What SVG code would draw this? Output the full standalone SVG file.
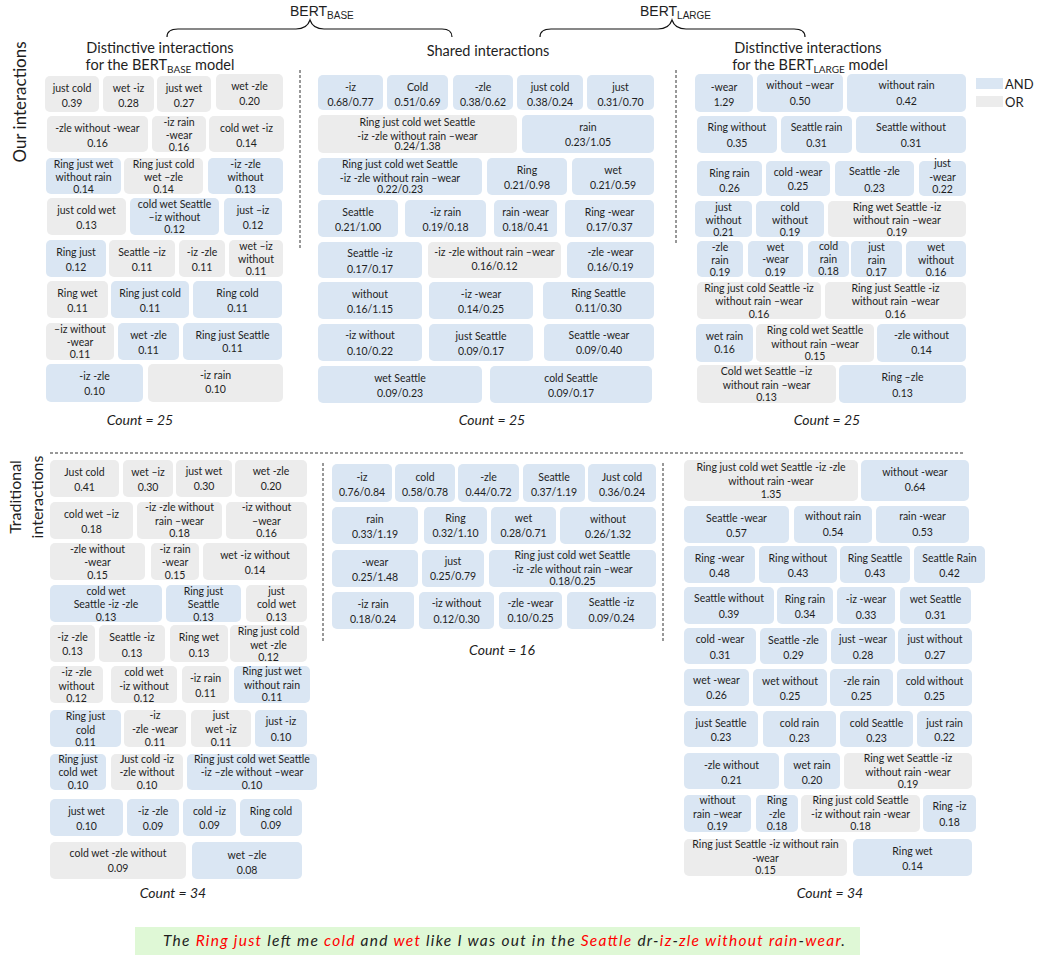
<svg xmlns="http://www.w3.org/2000/svg" width="1038" height="955" viewBox="0 0 1038 955">
<style>
text{font-family:Lato,"Liberation Sans",sans-serif;fill:#1e1e1e}
.a{fill:#dae6f3}
.o{fill:#ececec}
.t{font-size:10.5px;text-anchor:middle}
.h{font-size:14.5px;text-anchor:middle}
.c{font-size:14px;font-style:italic;text-anchor:middle}
.b{font-family:"Liberation Sans",Arial,sans-serif;font-size:14px}
.d{fill:none;stroke:#333;stroke-width:1;stroke-dasharray:3,2}
.br{fill:none;stroke:#111;stroke-width:1.2}
.r{fill:#ff0000}
</style>
<rect width="1038" height="955" fill="#ffffff"/>
<g id="headers">
<text class="b" x="290" y="16">BERT<tspan font-size="10" dy="3">BASE</tspan></text>
<text class="b" x="640" y="16">BERT<tspan font-size="10" dy="3">LARGE</tspan></text>
<text class="h" x="160" y="53">Distinctive interactions</text>
<text class="h" x="160" y="70">for the BERT<tspan font-size="10" dy="3">BASE</tspan><tspan dy="-3"> model</tspan></text>
<text class="h" x="488" y="56">Shared interactions</text>
<text class="h" x="808" y="53">Distinctive interactions</text>
<text class="h" x="810" y="70">for the BERT<tspan font-size="10" dy="3">LARGE</tspan><tspan dy="-3"> model</tspan></text>
<text font-size="17" text-anchor="middle" transform="translate(26,102) rotate(-90)">Our interactions</text>
<text font-size="16" text-anchor="middle" transform="translate(21,497) rotate(-90)">Traditional</text>
<text font-size="16" text-anchor="middle" transform="translate(43,497) rotate(-90)">interactions</text>
<text class="c" x="140" y="425">Count = 25</text>
<text class="c" x="492" y="425">Count = 25</text>
<text class="c" x="827" y="425">Count = 25</text>
<text class="c" x="173" y="898">Count = 34</text>
<text class="c" x="502" y="655">Count = 16</text>
<text class="c" x="830" y="898">Count = 34</text>
</g>
<g id="legend">
<rect class="a" x="976" y="78" width="27" height="11"/>
<text x="1005" y="89" font-size="13">AND</text>
<rect class="o" x="976" y="96" width="27" height="11"/>
<text x="1005" y="107" font-size="13">OR</text>
</g>
<g id="connectors">
<path class="br" d="M167,37 C167,32 170,29 178,29 L296,29 C304,29 308,26 310,20 C312,26 316,29 324,29 L442,29 C449,29 452,32 452,37"/>
<path class="br" d="M540,37 C540,32 543,29 551,29 L658,29 C666,29 670,26 672,20 C674,26 678,29 686,29 L794,29 C801,29 805,32 805,37"/>
<line class="d" x1="300" y1="70" x2="300" y2="250"/>
<line class="d" x1="676" y1="70" x2="676" y2="245"/>
<line class="d" x1="50" y1="453" x2="965" y2="453"/>
<line class="d" x1="323" y1="463" x2="323" y2="643"/>
<line class="d" x1="663" y1="463" x2="663" y2="643"/>
</g>
<g id="tl1"><rect class="o" x="45" y="76" width="54" height="36" rx="5"/><text class="t"><tspan x="72" y="91.5">just cold</tspan><tspan x="72" y="106.5">0.39</tspan></text></g>
<g id="tl2"><rect class="o" x="103" y="76" width="51" height="36" rx="5"/><text class="t"><tspan x="128.5" y="91.5">wet -iz</tspan><tspan x="128.5" y="106.5">0.28</tspan></text></g>
<g id="tl3"><rect class="o" x="157" y="76" width="54" height="36" rx="5"/><text class="t"><tspan x="184" y="91.5">just wet</tspan><tspan x="184" y="106.5">0.27</tspan></text></g>
<g id="tl4"><rect class="o" x="216" y="74" width="67" height="36" rx="5"/><text class="t"><tspan x="249.5" y="89.5">wet -zle</tspan><tspan x="249.5" y="104.5">0.20</tspan></text></g>
<g id="tl5"><rect class="o" x="47" y="116" width="101" height="36" rx="5"/><text class="t"><tspan x="97.5" y="131.5">-zle without -wear</tspan><tspan x="97.5" y="146.5">0.16</tspan></text></g>
<g id="tl6"><rect class="o" x="152" y="116" width="54" height="36" rx="5"/><text class="t"><tspan x="179" y="126">-iz rain</tspan><tspan x="179" y="139">-wear</tspan><tspan x="179" y="150.5">0.16</tspan></text></g>
<g id="tl7"><rect class="o" x="209" y="116" width="75" height="36" rx="5"/><text class="t"><tspan x="246.5" y="131.5">cold wet -iz</tspan><tspan x="246.5" y="146.5">0.14</tspan></text></g>
<g id="tl8"><rect class="a" x="46" y="158" width="75" height="36" rx="5"/><text class="t"><tspan x="83.5" y="168">Ring just wet</tspan><tspan x="83.5" y="181">without rain</tspan><tspan x="83.5" y="192.5">0.14</tspan></text></g>
<g id="tl9"><rect class="o" x="124" y="158" width="79" height="36" rx="5"/><text class="t"><tspan x="163.5" y="168">Ring just cold</tspan><tspan x="163.5" y="181">wet –zle</tspan><tspan x="163.5" y="192.5">0.14</tspan></text></g>
<g id="tl10"><rect class="a" x="208" y="158" width="75" height="36" rx="5"/><text class="t"><tspan x="245.5" y="168">-iz -zle</tspan><tspan x="245.5" y="181">without</tspan><tspan x="245.5" y="192.5">0.13</tspan></text></g>
<g id="tl11"><rect class="o" x="47" y="198" width="79" height="37" rx="5"/><text class="t"><tspan x="86.5" y="213.5">just cold wet</tspan><tspan x="86.5" y="228.5">0.13</tspan></text></g>
<g id="tl12"><rect class="a" x="130" y="198" width="89" height="37" rx="5"/><text class="t"><tspan x="174.5" y="208">cold wet Seattle</tspan><tspan x="174.5" y="221">–iz without</tspan><tspan x="174.5" y="232.5">0.12</tspan></text></g>
<g id="tl13"><rect class="a" x="224" y="198" width="58" height="37" rx="5"/><text class="t"><tspan x="253" y="213.5">just –iz</tspan><tspan x="253" y="228.5">0.12</tspan></text></g>
<g id="tl14"><rect class="a" x="46" y="240" width="60" height="37" rx="5"/><text class="t"><tspan x="76" y="255.5">Ring just</tspan><tspan x="76" y="270.5">0.12</tspan></text></g>
<g id="tl15"><rect class="o" x="109" y="240" width="66" height="37" rx="5"/><text class="t"><tspan x="142" y="255.5">Seattle –iz</tspan><tspan x="142" y="270.5">0.11</tspan></text></g>
<g id="tl16"><rect class="o" x="179" y="240" width="46" height="37" rx="5"/><text class="t"><tspan x="202" y="255.5">-iz -zle</tspan><tspan x="202" y="270.5">0.11</tspan></text></g>
<g id="tl17"><rect class="o" x="229" y="240" width="54" height="37" rx="5"/><text class="t"><tspan x="256" y="250">wet –iz</tspan><tspan x="256" y="263">without</tspan><tspan x="256" y="274.5">0.11</tspan></text></g>
<g id="tl18"><rect class="o" x="47" y="281" width="61" height="37" rx="5"/><text class="t"><tspan x="77.5" y="296.5">Ring wet</tspan><tspan x="77.5" y="311.5">0.11</tspan></text></g>
<g id="tl19"><rect class="a" x="111" y="281" width="78" height="37" rx="5"/><text class="t"><tspan x="150" y="296.5">Ring just cold</tspan><tspan x="150" y="311.5">0.11</tspan></text></g>
<g id="tl20"><rect class="a" x="193" y="281" width="89" height="37" rx="5"/><text class="t"><tspan x="237.5" y="296.5">Ring cold</tspan><tspan x="237.5" y="311.5">0.11</tspan></text></g>
<g id="tl21"><rect class="o" x="46" y="323" width="68" height="37" rx="5"/><text class="t"><tspan x="80" y="333">–iz without</tspan><tspan x="80" y="346">-wear</tspan><tspan x="80" y="357.5">0.11</tspan></text></g>
<g id="tl22"><rect class="a" x="118" y="323" width="61" height="37" rx="5"/><text class="t"><tspan x="148.5" y="338.5">wet -zle</tspan><tspan x="148.5" y="353.5">0.11</tspan></text></g>
<g id="tl23"><rect class="a" x="183" y="323" width="99" height="37" rx="5"/><text class="t"><tspan x="232.5" y="338.5">Ring just Seattle</tspan><tspan x="232.5" y="352">0.11</tspan></text></g>
<g id="tl24"><rect class="a" x="46" y="364" width="97" height="38" rx="5"/><text class="t"><tspan x="94.5" y="379.5">-iz -zle</tspan><tspan x="94.5" y="394.5">0.10</tspan></text></g>
<g id="tl25"><rect class="o" x="148" y="364" width="135" height="38" rx="5"/><text class="t"><tspan x="215.5" y="378.5">-iz rain</tspan><tspan x="215.5" y="393">0.10</tspan></text></g>
<g id="tm1"><rect class="a" x="318" y="75" width="65" height="35" rx="5"/><text class="t"><tspan x="350.5" y="90.5">-iz</tspan><tspan x="350.5" y="105.5">0.68/0.77</tspan></text></g>
<g id="tm2"><rect class="a" x="387" y="75" width="61" height="35" rx="5"/><text class="t"><tspan x="417.5" y="90.5">Cold</tspan><tspan x="417.5" y="105.5">0.51/0.69</tspan></text></g>
<g id="tm3"><rect class="a" x="453" y="75" width="60" height="35" rx="5"/><text class="t"><tspan x="483" y="90.5">-zle</tspan><tspan x="483" y="105.5">0.38/0.62</tspan></text></g>
<g id="tm4"><rect class="a" x="517" y="75" width="66" height="35" rx="5"/><text class="t"><tspan x="550" y="90.5">just cold</tspan><tspan x="550" y="105.5">0.38/0.24</tspan></text></g>
<g id="tm5"><rect class="a" x="587" y="75" width="67" height="35" rx="5"/><text class="t"><tspan x="620.5" y="90.5">just</tspan><tspan x="620.5" y="105.5">0.31/0.70</tspan></text></g>
<g id="tm6"><rect class="o" x="318" y="115" width="199" height="38" rx="5"/><text class="t"><tspan x="417.5" y="125.5">Ring just cold wet Seattle</tspan><tspan x="417.5" y="139.5">-iz -zle without rain –wear</tspan><tspan x="417.5" y="150">0.24/1.38</tspan></text></g>
<g id="tm7"><rect class="a" x="522" y="115" width="132" height="38" rx="5"/><text class="t"><tspan x="588" y="130.5">rain</tspan><tspan x="588" y="145.5">0.23/1.05</tspan></text></g>
<g id="tm8"><rect class="a" x="318" y="158" width="164" height="37" rx="5"/><text class="t"><tspan x="400" y="168">Ring just cold wet Seattle</tspan><tspan x="400" y="182">-iz -zle without rain –wear</tspan><tspan x="400" y="193">0.22/0.23</tspan></text></g>
<g id="tm9"><rect class="a" x="487" y="158" width="80" height="37" rx="5"/><text class="t"><tspan x="527" y="174">Ring</tspan><tspan x="527" y="189">0.21/0.98</tspan></text></g>
<g id="tm10"><rect class="a" x="572" y="158" width="82" height="37" rx="5"/><text class="t"><tspan x="613" y="174">wet</tspan><tspan x="613" y="189">0.21/0.59</tspan></text></g>
<g id="tm11"><rect class="a" x="318" y="200" width="80" height="37" rx="5"/><text class="t"><tspan x="358" y="215.5">Seattle</tspan><tspan x="358" y="230.5">0.21/1.00</tspan></text></g>
<g id="tm12"><rect class="a" x="405" y="200" width="81" height="37" rx="5"/><text class="t"><tspan x="445.5" y="215.5">-iz rain</tspan><tspan x="445.5" y="230.5">0.19/0.18</tspan></text></g>
<g id="tm13"><rect class="a" x="494" y="200" width="63" height="37" rx="5"/><text class="t"><tspan x="525.5" y="215.5">rain -wear</tspan><tspan x="525.5" y="230.5">0.18/0.41</tspan></text></g>
<g id="tm14"><rect class="a" x="565" y="200" width="89" height="37" rx="5"/><text class="t"><tspan x="609.5" y="215.5">Ring -wear</tspan><tspan x="609.5" y="230.5">0.17/0.37</tspan></text></g>
<g id="tm15"><rect class="a" x="318" y="242" width="104" height="36" rx="5"/><text class="t"><tspan x="370" y="256.5">Seattle -iz</tspan><tspan x="370" y="272.5">0.17/0.17</tspan></text></g>
<g id="tm16"><rect class="o" x="428" y="242" width="133" height="36" rx="5"/><text class="t"><tspan x="494.5" y="255.5">-iz -zle without rain –wear</tspan><tspan x="494.5" y="270">0.16/0.12</tspan></text></g>
<g id="tm17"><rect class="a" x="567" y="242" width="87" height="36" rx="5"/><text class="t"><tspan x="610.5" y="255.5">-zle -wear</tspan><tspan x="610.5" y="271">0.16/0.19</tspan></text></g>
<g id="tm18"><rect class="a" x="318" y="282" width="104" height="37" rx="5"/><text class="t"><tspan x="370" y="297.5">without</tspan><tspan x="370" y="312.5">0.16/1.15</tspan></text></g>
<g id="tm19"><rect class="a" x="429" y="282" width="104" height="37" rx="5"/><text class="t"><tspan x="481" y="297.5">-iz -wear</tspan><tspan x="481" y="312.5">0.14/0.25</tspan></text></g>
<g id="tm20"><rect class="a" x="543" y="282" width="111" height="37" rx="5"/><text class="t"><tspan x="598.5" y="297">Ring Seattle</tspan><tspan x="598.5" y="311.5">0.11/0.30</tspan></text></g>
<g id="tm21"><rect class="a" x="318" y="324" width="104" height="37" rx="5"/><text class="t"><tspan x="370" y="339">-iz without</tspan><tspan x="370" y="354.5">0.10/0.22</tspan></text></g>
<g id="tm22"><rect class="a" x="429" y="324" width="104" height="37" rx="5"/><text class="t"><tspan x="481" y="340">just Seattle</tspan><tspan x="481" y="355">0.09/0.17</tspan></text></g>
<g id="tm23"><rect class="a" x="544" y="324" width="110" height="37" rx="5"/><text class="t"><tspan x="599" y="338.5">Seattle -wear</tspan><tspan x="599" y="353.5">0.09/0.40</tspan></text></g>
<g id="tm24"><rect class="a" x="318" y="366" width="164" height="37" rx="5"/><text class="t"><tspan x="400" y="381.5">wet Seattle</tspan><tspan x="400" y="396.5">0.09/0.23</tspan></text></g>
<g id="tm25"><rect class="a" x="490" y="366" width="162" height="37" rx="5"/><text class="t"><tspan x="571" y="381.5">cold Seattle</tspan><tspan x="571" y="396.5">0.09/0.17</tspan></text></g>
<g id="tr1"><rect class="a" x="695" y="74" width="58" height="38" rx="5"/><text class="t"><tspan x="724" y="90.5">-wear</tspan><tspan x="724" y="105.5">1.29</tspan></text></g>
<g id="tr2"><rect class="a" x="757" y="74" width="86" height="38" rx="5"/><text class="t"><tspan x="800" y="89">without –wear</tspan><tspan x="800" y="104.5">0.50</tspan></text></g>
<g id="tr3"><rect class="a" x="847" y="74" width="119" height="38" rx="5"/><text class="t"><tspan x="906.5" y="89">without rain</tspan><tspan x="906.5" y="104.5">0.42</tspan></text></g>
<g id="tr4"><rect class="a" x="697" y="116" width="80" height="37" rx="5"/><text class="t"><tspan x="737" y="131">Ring without</tspan><tspan x="737" y="146.5">0.35</tspan></text></g>
<g id="tr5"><rect class="a" x="781" y="116" width="71" height="37" rx="5"/><text class="t"><tspan x="816.5" y="131">Seattle rain</tspan><tspan x="816.5" y="147">0.31</tspan></text></g>
<g id="tr6"><rect class="a" x="856" y="116" width="110" height="37" rx="5"/><text class="t"><tspan x="911" y="131">Seattle without</tspan><tspan x="911" y="147">0.31</tspan></text></g>
<g id="tr7"><rect class="a" x="697" y="161" width="65" height="35" rx="5"/><text class="t"><tspan x="729.5" y="176.5">Ring rain</tspan><tspan x="729.5" y="191.5">0.26</tspan></text></g>
<g id="tr8"><rect class="a" x="766" y="161" width="64" height="35" rx="5"/><text class="t"><tspan x="798" y="176">cold -wear</tspan><tspan x="798" y="190">0.25</tspan></text></g>
<g id="tr9"><rect class="a" x="835" y="161" width="79" height="35" rx="5"/><text class="t"><tspan x="874.5" y="175">Seattle -zle</tspan><tspan x="874.5" y="191.5">0.23</tspan></text></g>
<g id="tr10"><rect class="a" x="919" y="161" width="47" height="35" rx="5"/><text class="t"><tspan x="942.5" y="167">just</tspan><tspan x="942.5" y="181">-wear</tspan><tspan x="942.5" y="193">0.22</tspan></text></g>
<g id="tr11"><rect class="a" x="695" y="201" width="57" height="36" rx="5"/><text class="t"><tspan x="723.5" y="211">just</tspan><tspan x="723.5" y="224">without</tspan><tspan x="723.5" y="235.5">0.21</tspan></text></g>
<g id="tr12"><rect class="a" x="756" y="201" width="68" height="36" rx="5"/><text class="t"><tspan x="790" y="211">cold</tspan><tspan x="790" y="224">without</tspan><tspan x="790" y="235.5">0.19</tspan></text></g>
<g id="tr13"><rect class="o" x="828" y="201" width="138" height="36" rx="5"/><text class="t"><tspan x="897" y="211">Ring wet Seattle -iz</tspan><tspan x="897" y="224">without rain –wear</tspan><tspan x="897" y="235.5">0.19</tspan></text></g>
<g id="tr14"><rect class="a" x="697" y="241" width="46" height="36" rx="5"/><text class="t"><tspan x="720" y="250.5">-zle</tspan><tspan x="720" y="264">rain</tspan><tspan x="720" y="275.5">0.19</tspan></text></g>
<g id="tr15"><rect class="a" x="748" y="241" width="55" height="36" rx="5"/><text class="t"><tspan x="775.5" y="250.5">wet</tspan><tspan x="775.5" y="263">-wear</tspan><tspan x="775.5" y="275.5">0.19</tspan></text></g>
<g id="tr16"><rect class="a" x="808" y="241" width="41" height="36" rx="5"/><text class="t"><tspan x="828.5" y="249.5">cold</tspan><tspan x="828.5" y="263">rain</tspan><tspan x="828.5" y="275">0.18</tspan></text></g>
<g id="tr17"><rect class="a" x="851" y="241" width="51" height="36" rx="5"/><text class="t"><tspan x="876.5" y="250.5">just</tspan><tspan x="876.5" y="264">rain</tspan><tspan x="876.5" y="276">0.17</tspan></text></g>
<g id="tr18"><rect class="a" x="906" y="241" width="60" height="36" rx="5"/><text class="t"><tspan x="936" y="250.5">wet</tspan><tspan x="936" y="264">without</tspan><tspan x="936" y="276">0.16</tspan></text></g>
<g id="tr19"><rect class="o" x="697" y="282" width="124" height="37" rx="5"/><text class="t"><tspan x="759" y="291.5">Ring just cold Seattle -iz</tspan><tspan x="759" y="305">without rain –wear</tspan><tspan x="759" y="318">0.16</tspan></text></g>
<g id="tr20"><rect class="o" x="825" y="282" width="141" height="37" rx="5"/><text class="t"><tspan x="895.5" y="291.5">Ring just Seattle -iz</tspan><tspan x="895.5" y="305">without rain –wear</tspan><tspan x="895.5" y="318">0.16</tspan></text></g>
<g id="tr21"><rect class="a" x="696" y="324" width="57" height="38" rx="5"/><text class="t"><tspan x="724.5" y="340">wet rain</tspan><tspan x="724.5" y="353">0.16</tspan></text></g>
<g id="tr22"><rect class="o" x="756" y="324" width="118" height="38" rx="5"/><text class="t"><tspan x="815" y="333.5">Ring cold wet  Seattle</tspan><tspan x="815" y="347.5">without rain –wear</tspan><tspan x="815" y="360">0.15</tspan></text></g>
<g id="tr23"><rect class="a" x="877" y="324" width="89" height="38" rx="5"/><text class="t"><tspan x="921.5" y="338.5">-zle without</tspan><tspan x="921.5" y="354">0.14</tspan></text></g>
<g id="tr24"><rect class="o" x="697" y="365" width="139" height="38" rx="5"/><text class="t"><tspan x="766.5" y="374.5">Cold wet Seattle –iz</tspan><tspan x="766.5" y="388.5">without rain –wear</tspan><tspan x="766.5" y="401">0.13</tspan></text></g>
<g id="tr25"><rect class="a" x="839" y="365" width="127" height="38" rx="5"/><text class="t"><tspan x="902.5" y="380.5">Ring –zle</tspan><tspan x="902.5" y="397">0.13</tspan></text></g>
<g id="bl1"><rect class="o" x="50" y="460" width="69" height="37" rx="5"/><text class="t"><tspan x="84.5" y="475.5">Just cold</tspan><tspan x="84.5" y="490.5">0.41</tspan></text></g>
<g id="bl2"><rect class="o" x="123" y="460" width="50" height="37" rx="5"/><text class="t"><tspan x="148" y="475.5">wet –iz</tspan><tspan x="148" y="490.5">0.30</tspan></text></g>
<g id="bl3"><rect class="o" x="176" y="460" width="56" height="37" rx="5"/><text class="t"><tspan x="204" y="475">just wet</tspan><tspan x="204" y="490">0.30</tspan></text></g>
<g id="bl4"><rect class="o" x="235" y="460" width="72" height="37" rx="5"/><text class="t"><tspan x="271" y="475">wet -zle</tspan><tspan x="271" y="490">0.20</tspan></text></g>
<g id="bl5"><rect class="o" x="50" y="502" width="83" height="37" rx="5"/><text class="t"><tspan x="91.5" y="517.5">cold wet –iz</tspan><tspan x="91.5" y="532.5">0.18</tspan></text></g>
<g id="bl6"><rect class="o" x="137" y="502" width="85" height="37" rx="5"/><text class="t"><tspan x="179.5" y="510.5">-iz -zle without</tspan><tspan x="179.5" y="524.5">rain –wear</tspan><tspan x="179.5" y="537">0.18</tspan></text></g>
<g id="bl7"><rect class="o" x="226" y="502" width="81" height="37" rx="5"/><text class="t"><tspan x="266.5" y="511">-iz without</tspan><tspan x="266.5" y="524.5">–wear</tspan><tspan x="266.5" y="537">0.16</tspan></text></g>
<g id="bl8"><rect class="o" x="50" y="543" width="95" height="37" rx="5"/><text class="t"><tspan x="97.5" y="552.5">-zle without</tspan><tspan x="97.5" y="566">-wear</tspan><tspan x="97.5" y="579">0.15</tspan></text></g>
<g id="bl9"><rect class="o" x="151" y="543" width="48" height="37" rx="5"/><text class="t"><tspan x="175" y="552.5">-iz rain</tspan><tspan x="175" y="566">-wear</tspan><tspan x="175" y="579">0.15</tspan></text></g>
<g id="bl10"><rect class="o" x="203" y="543" width="104" height="37" rx="5"/><text class="t"><tspan x="255" y="559">wet -iz without</tspan><tspan x="255" y="573.5">0.14</tspan></text></g>
<g id="bl11"><rect class="a" x="50" y="585" width="112" height="37" rx="5"/><text class="t"><tspan x="106" y="594.5">cold wet</tspan><tspan x="106" y="608">Seattle  -iz -zle</tspan><tspan x="106" y="621">0.13</tspan></text></g>
<g id="bl12"><rect class="a" x="166" y="585" width="75" height="37" rx="5"/><text class="t"><tspan x="203.5" y="594.5">Ring just</tspan><tspan x="203.5" y="608">Seattle</tspan><tspan x="203.5" y="621">0.13</tspan></text></g>
<g id="bl13"><rect class="o" x="246" y="585" width="61" height="37" rx="5"/><text class="t"><tspan x="276.5" y="594.5">just</tspan><tspan x="276.5" y="608">cold wet</tspan><tspan x="276.5" y="621">0.13</tspan></text></g>
<g id="bl14"><rect class="o" x="50" y="625" width="45" height="37" rx="5"/><text class="t"><tspan x="72.5" y="641">-iz -zle</tspan><tspan x="72.5" y="655">0.13</tspan></text></g>
<g id="bl15"><rect class="o" x="99" y="625" width="66" height="37" rx="5"/><text class="t"><tspan x="132" y="641">Seattle -iz</tspan><tspan x="132" y="656.5">0.13</tspan></text></g>
<g id="bl16"><rect class="o" x="170" y="625" width="58" height="37" rx="5"/><text class="t"><tspan x="199" y="641">Ring wet</tspan><tspan x="199" y="656.5">0.13</tspan></text></g>
<g id="bl17"><rect class="o" x="230" y="625" width="77" height="37" rx="5"/><text class="t"><tspan x="268.5" y="634.5">Ring just cold</tspan><tspan x="268.5" y="648.5">wet -zle</tspan><tspan x="268.5" y="661">0.12</tspan></text></g>
<g id="bl18"><rect class="o" x="50" y="666" width="53" height="37" rx="5"/><text class="t"><tspan x="76.5" y="676">-iz -zle</tspan><tspan x="76.5" y="689.5">without</tspan><tspan x="76.5" y="702">0.12</tspan></text></g>
<g id="bl19"><rect class="o" x="111" y="666" width="66" height="37" rx="5"/><text class="t"><tspan x="144" y="676">cold wet</tspan><tspan x="144" y="690">-iz without</tspan><tspan x="144" y="702">0.12</tspan></text></g>
<g id="bl20"><rect class="o" x="182" y="666" width="47" height="37" rx="5"/><text class="t"><tspan x="205.5" y="682">-iz rain</tspan><tspan x="205.5" y="697">0.11</tspan></text></g>
<g id="bl21"><rect class="a" x="234" y="666" width="76" height="37" rx="5"/><text class="t"><tspan x="272" y="675">Ring just wet</tspan><tspan x="272" y="688.5">without rain</tspan><tspan x="272" y="701">0.11</tspan></text></g>
<g id="bl22"><rect class="a" x="50" y="710" width="71" height="37" rx="5"/><text class="t"><tspan x="85.5" y="720">Ring just</tspan><tspan x="85.5" y="733.5">cold</tspan><tspan x="85.5" y="746">0.11</tspan></text></g>
<g id="bl23"><rect class="o" x="124" y="710" width="62" height="37" rx="5"/><text class="t"><tspan x="155" y="719">-iz</tspan><tspan x="155" y="732.5">-zle -wear</tspan><tspan x="155" y="745.5">0.11</tspan></text></g>
<g id="bl24"><rect class="o" x="191" y="710" width="60" height="37" rx="5"/><text class="t"><tspan x="221" y="719">just</tspan><tspan x="221" y="732.5">wet -iz</tspan><tspan x="221" y="745.5">0.11</tspan></text></g>
<g id="bl25"><rect class="a" x="255" y="710" width="52" height="37" rx="5"/><text class="t"><tspan x="281" y="725">just -iz</tspan><tspan x="281" y="741">0.10</tspan></text></g>
<g id="bl26"><rect class="a" x="50" y="754" width="56" height="36" rx="5"/><text class="t"><tspan x="78" y="762.5">Ring just</tspan><tspan x="78" y="776">cold wet</tspan><tspan x="78" y="789">0.10</tspan></text></g>
<g id="bl27"><rect class="o" x="111" y="754" width="72" height="36" rx="5"/><text class="t"><tspan x="147" y="762.5">Just cold -iz</tspan><tspan x="147" y="776">-zle without</tspan><tspan x="147" y="789">0.10</tspan></text></g>
<g id="bl28"><rect class="a" x="187" y="754" width="130" height="36" rx="5"/><text class="t"><tspan x="252" y="762.5">Ring just cold wet Seattle</tspan><tspan x="252" y="776">-iz –zle without –wear</tspan><tspan x="252" y="789">0.10</tspan></text></g>
<g id="bl29"><rect class="a" x="50" y="799" width="73" height="37" rx="5"/><text class="t"><tspan x="86.5" y="814.5">just wet</tspan><tspan x="86.5" y="829.5">0.10</tspan></text></g>
<g id="bl30"><rect class="a" x="127" y="799" width="52" height="37" rx="5"/><text class="t"><tspan x="153" y="814.5">-iz  -zle</tspan><tspan x="153" y="829.5">0.09</tspan></text></g>
<g id="bl31"><rect class="a" x="183" y="799" width="53" height="37" rx="5"/><text class="t"><tspan x="209.5" y="814.5">cold -iz</tspan><tspan x="209.5" y="829">0.09</tspan></text></g>
<g id="bl32"><rect class="a" x="240" y="799" width="62" height="37" rx="5"/><text class="t"><tspan x="271" y="814.5">Ring cold</tspan><tspan x="271" y="829">0.09</tspan></text></g>
<g id="bl33"><rect class="o" x="50" y="842" width="136" height="37" rx="5"/><text class="t"><tspan x="118" y="857">cold wet -zle without</tspan><tspan x="118" y="871.5">0.09</tspan></text></g>
<g id="bl34"><rect class="a" x="192" y="842" width="110" height="37" rx="5"/><text class="t"><tspan x="247" y="858.5">wet –zle</tspan><tspan x="247" y="873.5">0.08</tspan></text></g>
<g id="bm1"><rect class="a" x="332" y="464" width="60" height="38" rx="5"/><text class="t"><tspan x="362" y="480.5">-iz</tspan><tspan x="362" y="495.5">0.76/0.84</tspan></text></g>
<g id="bm2"><rect class="a" x="395" y="464" width="60" height="38" rx="5"/><text class="t"><tspan x="425" y="480.5">cold</tspan><tspan x="425" y="495.5">0.58/0.78</tspan></text></g>
<g id="bm3"><rect class="a" x="458" y="464" width="61" height="38" rx="5"/><text class="t"><tspan x="488.5" y="480.5">-zle</tspan><tspan x="488.5" y="495.5">0.44/0.72</tspan></text></g>
<g id="bm4"><rect class="a" x="523" y="464" width="62" height="38" rx="5"/><text class="t"><tspan x="554" y="481">Seattle</tspan><tspan x="554" y="495.5">0.37/1.19</tspan></text></g>
<g id="bm5"><rect class="a" x="588" y="464" width="68" height="38" rx="5"/><text class="t"><tspan x="622" y="480.5">Just cold</tspan><tspan x="622" y="495.5">0.36/0.24</tspan></text></g>
<g id="bm6"><rect class="a" x="332" y="507" width="86" height="37" rx="5"/><text class="t"><tspan x="375" y="523">rain</tspan><tspan x="375" y="538">0.33/1.19</tspan></text></g>
<g id="bm7"><rect class="a" x="424" y="507" width="63" height="37" rx="5"/><text class="t"><tspan x="455.5" y="522">Ring</tspan><tspan x="455.5" y="537">0.32/1.10</tspan></text></g>
<g id="bm8"><rect class="a" x="491" y="507" width="65" height="37" rx="5"/><text class="t"><tspan x="523.5" y="522">wet</tspan><tspan x="523.5" y="537">0.28/0.71</tspan></text></g>
<g id="bm9"><rect class="a" x="560" y="507" width="96" height="37" rx="5"/><text class="t"><tspan x="608" y="523">without</tspan><tspan x="608" y="538">0.26/1.32</tspan></text></g>
<g id="bm10"><rect class="a" x="332" y="550" width="86" height="37" rx="5"/><text class="t"><tspan x="375" y="566">-wear</tspan><tspan x="375" y="581">0.25/1.48</tspan></text></g>
<g id="bm11"><rect class="a" x="422" y="550" width="62" height="37" rx="5"/><text class="t"><tspan x="453" y="565">just</tspan><tspan x="453" y="580">0.25/0.79</tspan></text></g>
<g id="bm12"><rect class="a" x="489" y="550" width="167" height="37" rx="5"/><text class="t"><tspan x="572.5" y="559">Ring just cold wet Seattle</tspan><tspan x="572.5" y="572.5">-iz -zle without rain –wear</tspan><tspan x="572.5" y="585">0.18/0.25</tspan></text></g>
<g id="bm13"><rect class="a" x="332" y="592" width="82" height="37" rx="5"/><text class="t"><tspan x="373" y="608">-iz rain</tspan><tspan x="373" y="623">0.18/0.24</tspan></text></g>
<g id="bm14"><rect class="a" x="419" y="592" width="75" height="37" rx="5"/><text class="t"><tspan x="456.5" y="607">-iz without</tspan><tspan x="456.5" y="622.5">0.12/0.30</tspan></text></g>
<g id="bm15"><rect class="a" x="499" y="592" width="63" height="37" rx="5"/><text class="t"><tspan x="530.5" y="607">-zle -wear</tspan><tspan x="530.5" y="622">0.10/0.25</tspan></text></g>
<g id="bm16"><rect class="a" x="567" y="592" width="89" height="37" rx="5"/><text class="t"><tspan x="611.5" y="606">Seattle -iz</tspan><tspan x="611.5" y="622">0.09/0.24</tspan></text></g>
<g id="br1"><rect class="o" x="684" y="460" width="174" height="41" rx="5"/><text class="t"><tspan x="771" y="470.5">Ring just cold wet Seattle -iz -zle</tspan><tspan x="771" y="485">without rain -wear</tspan><tspan x="771" y="497.5">1.35</tspan></text></g>
<g id="br2"><rect class="a" x="861" y="460" width="108" height="41" rx="5"/><text class="t"><tspan x="915" y="476">without -wear</tspan><tspan x="915" y="491">0.64</tspan></text></g>
<g id="br3"><rect class="a" x="684" y="506" width="105" height="37" rx="5"/><text class="t"><tspan x="736.5" y="521.5">Seattle -wear</tspan><tspan x="736.5" y="536.5">0.57</tspan></text></g>
<g id="br4"><rect class="a" x="794" y="506" width="78" height="37" rx="5"/><text class="t"><tspan x="833" y="520">without rain</tspan><tspan x="833" y="535.5">0.54</tspan></text></g>
<g id="br5"><rect class="a" x="876" y="506" width="93" height="37" rx="5"/><text class="t"><tspan x="922.5" y="520">rain -wear</tspan><tspan x="922.5" y="535.5">0.53</tspan></text></g>
<g id="br6"><rect class="a" x="684" y="546" width="71" height="37" rx="5"/><text class="t"><tspan x="719.5" y="561.5">Ring -wear</tspan><tspan x="719.5" y="576.5">0.48</tspan></text></g>
<g id="br7"><rect class="a" x="759" y="546" width="78" height="37" rx="5"/><text class="t"><tspan x="798" y="561.5">Ring without</tspan><tspan x="798" y="577">0.43</tspan></text></g>
<g id="br8"><rect class="a" x="840" y="546" width="70" height="37" rx="5"/><text class="t"><tspan x="875" y="561.5">Ring Seattle</tspan><tspan x="875" y="577">0.43</tspan></text></g>
<g id="br9"><rect class="a" x="914" y="546" width="71" height="37" rx="5"/><text class="t"><tspan x="949.5" y="561.5">Seattle Rain</tspan><tspan x="949.5" y="576.5">0.42</tspan></text></g>
<g id="br10"><rect class="a" x="684" y="587" width="90" height="37" rx="5"/><text class="t"><tspan x="729" y="602">Seattle without</tspan><tspan x="729" y="617.5">0.39</tspan></text></g>
<g id="br11"><rect class="a" x="777" y="587" width="56" height="37" rx="5"/><text class="t"><tspan x="805" y="603">Ring rain</tspan><tspan x="805" y="618">0.34</tspan></text></g>
<g id="br12"><rect class="a" x="837" y="587" width="58" height="37" rx="5"/><text class="t"><tspan x="866" y="603">-iz -wear</tspan><tspan x="866" y="618.5">0.33</tspan></text></g>
<g id="br13"><rect class="a" x="900" y="587" width="71" height="37" rx="5"/><text class="t"><tspan x="935.5" y="603">wet Seattle</tspan><tspan x="935.5" y="618.5">0.31</tspan></text></g>
<g id="br14"><rect class="a" x="684" y="628" width="72" height="36" rx="5"/><text class="t"><tspan x="720" y="643">cold -wear</tspan><tspan x="720" y="658.5">0.31</tspan></text></g>
<g id="br15"><rect class="a" x="760" y="628" width="67" height="36" rx="5"/><text class="t"><tspan x="793.5" y="644">Seattle -zle</tspan><tspan x="793.5" y="659">0.29</tspan></text></g>
<g id="br16"><rect class="a" x="831" y="628" width="64" height="36" rx="5"/><text class="t"><tspan x="863" y="643">just –wear</tspan><tspan x="863" y="658.5">0.28</tspan></text></g>
<g id="br17"><rect class="a" x="898" y="628" width="74" height="36" rx="5"/><text class="t"><tspan x="935" y="643">just without</tspan><tspan x="935" y="658.5">0.27</tspan></text></g>
<g id="br18"><rect class="a" x="684" y="669" width="65" height="37" rx="5"/><text class="t"><tspan x="716.5" y="684">wet -wear</tspan><tspan x="716.5" y="699">0.26</tspan></text></g>
<g id="br19"><rect class="a" x="753" y="669" width="74" height="37" rx="5"/><text class="t"><tspan x="790" y="685">wet without</tspan><tspan x="790" y="700">0.25</tspan></text></g>
<g id="br20"><rect class="a" x="830" y="669" width="63" height="37" rx="5"/><text class="t"><tspan x="861.5" y="685">-zle rain</tspan><tspan x="861.5" y="699.5">0.25</tspan></text></g>
<g id="br21"><rect class="a" x="897" y="669" width="75" height="37" rx="5"/><text class="t"><tspan x="934.5" y="685">cold without</tspan><tspan x="934.5" y="700">0.25</tspan></text></g>
<g id="br22"><rect class="a" x="684" y="711" width="74" height="36" rx="5"/><text class="t"><tspan x="721" y="726.5">just Seattle</tspan><tspan x="721" y="741">0.23</tspan></text></g>
<g id="br23"><rect class="a" x="763" y="711" width="73" height="36" rx="5"/><text class="t"><tspan x="799.5" y="726.5">cold rain</tspan><tspan x="799.5" y="742">0.23</tspan></text></g>
<g id="br24"><rect class="a" x="840" y="711" width="73" height="36" rx="5"/><text class="t"><tspan x="876.5" y="726.5">cold Seattle</tspan><tspan x="876.5" y="742">0.23</tspan></text></g>
<g id="br25"><rect class="a" x="917" y="711" width="55" height="36" rx="5"/><text class="t"><tspan x="944.5" y="726.5">just rain</tspan><tspan x="944.5" y="741">0.22</tspan></text></g>
<g id="br26"><rect class="a" x="684" y="753" width="95" height="36" rx="5"/><text class="t"><tspan x="731.5" y="768.5">-zle without</tspan><tspan x="731.5" y="784">0.21</tspan></text></g>
<g id="br27"><rect class="a" x="784" y="753" width="56" height="36" rx="5"/><text class="t"><tspan x="812" y="768.5">wet rain</tspan><tspan x="812" y="784">0.20</tspan></text></g>
<g id="br28"><rect class="o" x="844" y="753" width="128" height="36" rx="5"/><text class="t"><tspan x="908" y="762">Ring wet Seattle -iz</tspan><tspan x="908" y="775.5">without rain -wear</tspan><tspan x="908" y="788">0.19</tspan></text></g>
<g id="br29"><rect class="a" x="684" y="795" width="67" height="37" rx="5"/><text class="t"><tspan x="717.5" y="803.5">without</tspan><tspan x="717.5" y="817.5">rain –wear</tspan><tspan x="717.5" y="830">0.19</tspan></text></g>
<g id="br30"><rect class="a" x="756" y="795" width="42" height="37" rx="5"/><text class="t"><tspan x="777" y="804">Ring</tspan><tspan x="777" y="818">-zle</tspan><tspan x="777" y="830">0.18</tspan></text></g>
<g id="br31"><rect class="o" x="801" y="795" width="119" height="37" rx="5"/><text class="t"><tspan x="860.5" y="804">Ring just cold Seattle</tspan><tspan x="860.5" y="818">-iz without rain -wear</tspan><tspan x="860.5" y="830">0.18</tspan></text></g>
<g id="br32"><rect class="a" x="923" y="795" width="53" height="37" rx="5"/><text class="t"><tspan x="949.5" y="810">Ring -iz</tspan><tspan x="949.5" y="826">0.18</tspan></text></g>
<g id="br33"><rect class="o" x="684" y="839" width="163" height="37" rx="5"/><text class="t"><tspan x="765.5" y="847.5">Ring just Seattle -iz without rain</tspan><tspan x="765.5" y="861.5">-wear</tspan><tspan x="765.5" y="874">0.15</tspan></text></g>
<g id="br34"><rect class="a" x="853" y="839" width="119" height="37" rx="5"/><text class="t"><tspan x="912.5" y="854.5">Ring wet</tspan><tspan x="912.5" y="870">0.14</tspan></text></g>
<g id="caption">
<rect x="135" y="927" width="725" height="28" fill="#dff8d6"/>
<text x="163" y="946" font-size="15.5" font-style="italic" textLength="682" lengthAdjust="spacing">The <tspan class="r">Ring just</tspan> left me <tspan class="r">cold</tspan> and <tspan class="r">wet</tspan> like I was out in the <tspan class="r">Seattle</tspan> dr-<tspan class="r">iz</tspan>-<tspan class="r">zle without rain</tspan>-<tspan class="r">wear</tspan>.</text>
</g>
</svg>
